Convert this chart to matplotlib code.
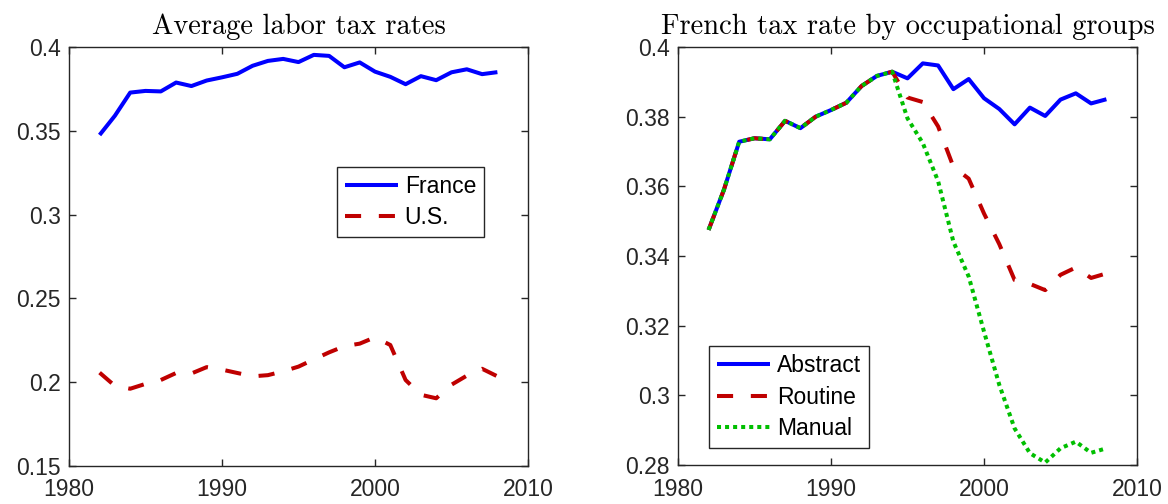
import matplotlib
matplotlib.use("Agg")
import matplotlib.pyplot as plt
from matplotlib.ticker import FuncFormatter

# data
years = list(range(1982, 2009))

france = [0.3475, 0.3590, 0.3728, 0.3738, 0.3735, 0.3788, 0.3767, 0.3800, 0.3819,
          0.3840, 0.3888, 0.3917, 0.3929, 0.3910, 0.3953, 0.3947, 0.3879, 0.3908,
          0.3853, 0.3822, 0.3778, 0.3826, 0.3802, 0.3849, 0.3867, 0.3838, 0.3850]

us = [0.2057, 0.1978, 0.1961, 0.1990, 0.2013, 0.2055, 0.2052, 0.2090, 0.2075,
      0.2055, 0.2035, 0.2042, 0.2065, 0.2093, 0.2136, 0.2178, 0.2215, 0.2230,
      0.2268, 0.2222, 0.2013, 0.1925, 0.1904, 0.1985, 0.2039, 0.2080, 0.2035]

abstract = france

routine = [0.3475, 0.3590, 0.3728, 0.3738, 0.3735, 0.3788, 0.3767, 0.3800, 0.3819,
           0.3840, 0.3888, 0.3917, 0.3929, 0.3855, 0.3842, 0.3772, 0.3656, 0.3622,
           0.3522, 0.3434, 0.3331, 0.3320, 0.3302, 0.3346, 0.3367, 0.3337, 0.3350]

manual = [0.3475, 0.3590, 0.3728, 0.3738, 0.3735, 0.3788, 0.3767, 0.3800, 0.3819,
          0.3840, 0.3888, 0.3917, 0.3929, 0.3795, 0.3724, 0.3615, 0.3441, 0.3341,
          0.3183, 0.3030, 0.2905, 0.2834, 0.2807, 0.2848, 0.2867, 0.2835, 0.2848]

x_ticks = [1980, 1990, 2000, 2010]
left_yticks = [0.15, 0.2, 0.25, 0.3, 0.35, 0.4]
right_yticks = [0.28, 0.3, 0.32, 0.34, 0.36, 0.38, 0.4]

BLUE = "#0000ff"
RED = "#bf0000"
GREEN = "#00bf00"
AXCOL = "#262626"

plt.rcParams["font.family"] = ["Liberation Sans", "DejaVu Sans"]
plt.rcParams["font.size"] = 16.5
plt.rcParams["lines.solid_capstyle"] = "butt"
plt.rcParams["lines.dash_capstyle"] = "butt"

fig = plt.figure(figsize=(11.68, 5.04), dpi=100)
ax1 = fig.add_axes([69 / 1168, 38 / 504, 459 / 1168, 419 / 504])
ax2 = fig.add_axes([678 / 1168, 39 / 504, 459 / 1168, 418 / 504])

lw = 2.9
ax1.plot(years, france, color=BLUE, lw=lw, label="France")
ax1.plot(years, us, color=RED, lw=lw, dashes=(4, 4.4), label="U.S.")

ax2.plot(years, abstract, color=BLUE, lw=lw, label="Abstract")
ax2.plot(years, routine, color=RED, lw=lw, dashes=(4, 4.4), label="Routine")
ax2.plot(years, manual, color=GREEN, lw=lw, dashes=(1, 1), label="Manual")

fmt = FuncFormatter(lambda v, p: "%g" % round(v, 4))
for ax, yt in [(ax1, left_yticks), (ax2, right_yticks)]:
    ax.set_xlim(1980, 2010)
    ax.set_ylim(yt[0], yt[-1])
    ax.set_xticks(x_ticks)
    ax.set_yticks(yt)
    ax.yaxis.set_major_formatter(fmt)
    ax.tick_params(direction="in", length=5, width=1, colors=AXCOL,
                   top=True, right=True, labelsize=16.5, pad=6)
    ax.tick_params(axis="x", pad=9)
    for s in ax.spines.values():
        s.set_color(AXCOL)
        s.set_linewidth(1.0)

title_font = dict(family=["cmr10", "DejaVu Serif"], size=20.5)
ax1.set_title("Average labor tax rates", fontdict=title_font, pad=9)
ax2.set_title("French tax rate by occupational groups", fontdict=title_font, pad=9)

leg_kw = dict(frameon=True, fancybox=False, framealpha=1, edgecolor=AXCOL,
              handlelength=2.3, handletextpad=0.3, labelspacing=0.36,
              borderpad=0.35, borderaxespad=0, fontsize=16.5)
l1 = ax1.legend(loc="upper left", bbox_to_anchor=(0.584, 0.714), **leg_kw)
l2 = ax2.legend(loc="lower left", bbox_to_anchor=(0.068, 0.041), **leg_kw)
for l in (l1, l2):
    l.get_frame().set_linewidth(1.0)

fig.savefig("out.png", dpi=100)
